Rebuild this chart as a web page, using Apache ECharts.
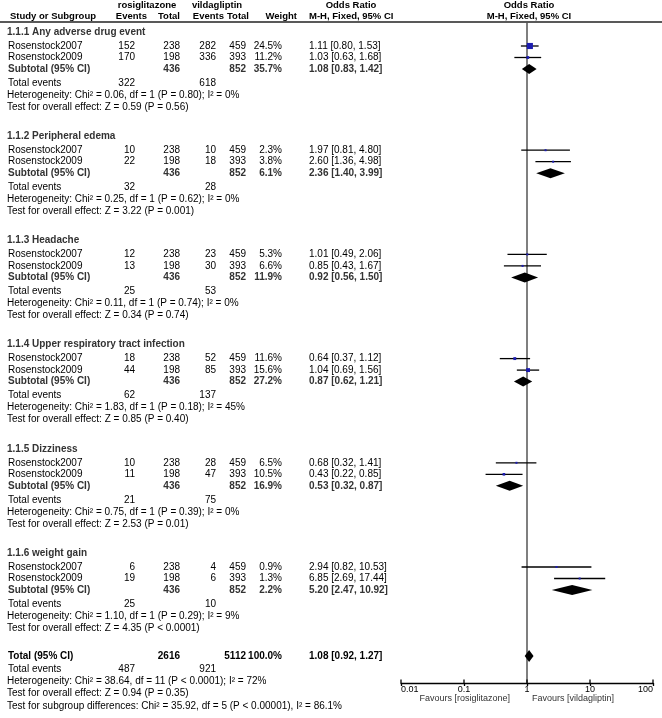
<!DOCTYPE html>
<html><head><meta charset="utf-8">
<script src="https://cdn.jsdelivr.net/npm/echarts@6/dist/echarts.min.js"></script>
<style>html,body{margin:0;padding:0;background:#fff}#c{width:662px;height:718px}</style>
</head><body><div id="c"></div>
<script>
// ---------------- DATA ----------------
const subgroups = ['1.1.1 Any adverse drug event','1.1.2 Peripheral edema','1.1.3 Headache','1.1.4 Upper respiratory tract infection','1.1.5 Dizziness','1.1.6 weight gain'];
const studies = ['Rosenstock2007','Rosenstock2009'];
const rosiEvents = [[152,170],[10,22],[12,13],[18,44],[10,11],[6,19]];
const rosiTotal = [238,198];
const vildaEvents = [[282,336],[10,18],[23,30],[52,85],[28,47],[4,6]];
const vildaTotal = [459,393];
const studyWeight = [[24.5,11.2],[2.3,3.8],[5.3,6.6],[11.6,15.6],[6.5,10.5],[0.9,1.3]];
const studyOR = [[1.11,1.03],[1.97,2.60],[1.01,0.85],[0.64,1.04],[0.68,0.43],[2.94,6.85]];
const studyLo = [[0.80,0.63],[0.81,1.36],[0.49,0.43],[0.37,0.69],[0.32,0.22],[0.82,2.69]];
const studyHi = [[1.53,1.68],[4.80,4.98],[2.06,1.67],[1.12,1.56],[1.41,0.85],[10.53,17.44]];
const subRosiTotal = [436,436,436,436,436,436];
const subVildaTotal = [852,852,852,852,852,852];
const subWeight = [35.7,6.1,11.9,27.2,16.9,2.2];
const subOR = [1.08,2.36,0.92,0.87,0.53,5.20];
const subLo = [0.83,1.40,0.56,0.62,0.32,2.47];
const subHi = [1.42,3.99,1.50,1.21,0.87,10.92];
const subRosiEvents = [322,32,25,62,21,25];
const subVildaEvents = [618,28,53,137,75,10];
const hetChi = ['0.06','0.25','0.11','1.83','0.75','1.10'];
const hetDf = [1,1,1,1,1,1];
const hetP = ['= 0.80','= 0.62','= 0.74','= 0.18','= 0.39','= 0.29'];
const hetI2 = ['0%','0%','0%','45%','0%','9%'];
const zVal = ['0.59','3.22','0.34','0.85','2.53','4.35'];
const zP = ['= 0.56','= 0.001','= 0.74','= 0.40','= 0.01','< 0.0001'];
const totRosiTotal = 2616, totVildaTotal = 5112, totWeight = 100.0;
const totOR = 1.08, totLo = 0.92, totHi = 1.27;
const totRosiEvents = 487, totVildaEvents = 921;
const totHet = 'Heterogeneity: Chi² = 38.64, df = 11 (P < 0.0001); I² = 72%';
const totZ = 'Test for overall effect: Z = 0.94 (P = 0.35)';
const subDiff = 'Test for subgroup differences: Chi² = 35.92, df = 5 (P < 0.00001), I² = 86.1%';
const tickValues = [0.01, 0.1, 1, 10, 100];
const tickLabels = ['0.01','0.1','1','10','100'];
const favLeft = 'Favours [rosiglitazone]';
const favRight = 'Favours [vildagliptin]';

// ---------------- LAYOUT ----------------
const FONT = '"Liberation Sans", Arial, sans-serif';
const FS = 10, FS_AX = 9, FS_HD = 9.5;
const groupTop = subgroups.map((_, g) => 32 + g * 104.2);
const OFF = {hdr:0, s:[14,25.5], sub:37, te:51, het:63, test:75};
const TOT = {row:656, te:669, het:681, test:693, diff:706};
const COL = {label:8, hx:7, rE:135, rT:180, vE:216, vT:246, w:282, or:309};
const AXIS_Y = 683, HEAD_LINE = 22;

const fmt2 = v => v.toFixed(2);
const orTxt = (o,l,h) => fmt2(o) + ' [' + fmt2(l) + ', ' + fmt2(h) + ']';
const graphics = [];
function T(text, x, y, opt) {
  opt = opt || {};
  graphics.push({type:'text', x:x, y:y, silent:true, style:{
    text:String(text), fill: opt.fill || '#000', align: opt.align || 'left', verticalAlign:'middle',
    font: (opt.bold ? 'bold ' : '') + (opt.fs || FS) + 'px ' + FONT }});
}
// headers
const H = {bold:true, fs:FS_HD};
T('rosiglitazone', 147, 5, Object.assign({align:'center'}, H));
T('vildagliptin', 217, 5, Object.assign({align:'center'}, H));
T('Odds Ratio', 351, 5, Object.assign({align:'center'}, H));
T('Odds Ratio', 529, 5, Object.assign({align:'center'}, H));
T('Study or Subgroup', 10, 16, H);
T('Events', 147, 16, Object.assign({align:'right'}, H));
T('Total', 180, 16, Object.assign({align:'right'}, H));
T('Events', 224, 16, Object.assign({align:'right'}, H));
T('Total', 249, 16, Object.assign({align:'right'}, H));
T('Weight', 297, 16, Object.assign({align:'right'}, H));
T('M-H, Fixed, 95% CI', 309, 16, H);
T('M-H, Fixed, 95% CI', 529, 16, Object.assign({align:'center'}, H));
graphics.push({type:'line', silent:true, shape:{x1:0, y1:HEAD_LINE, x2:662, y2:HEAD_LINE}, style:{stroke:'#222', lineWidth:1.5}});

const marks = [];
subgroups.forEach((name, g) => {
  const y0 = groupTop[g];
  T(name, COL.hx, y0 + OFF.hdr, {bold:true, fill:'#333'});
  studies.forEach((s, i) => {
    const y = y0 + OFF.s[i];
    T(s, COL.label, y);
    T(rosiEvents[g][i], COL.rE, y, {align:'right'});
    T(rosiTotal[i], COL.rT, y, {align:'right'});
    T(vildaEvents[g][i], COL.vE, y, {align:'right'});
    T(vildaTotal[i], COL.vT, y, {align:'right'});
    T(studyWeight[g][i].toFixed(1) + '%', COL.w, y, {align:'right'});
    T(orTxt(studyOR[g][i], studyLo[g][i], studyHi[g][i]), COL.or, y);
    marks.push([studyOR[g][i], studyLo[g][i], studyHi[g][i], y, studyWeight[g][i], 0]);
  });
  const ys = y0 + OFF.sub;
  T('Subtotal (95% CI)', COL.label, ys, {bold:true, fill:'#333'});
  T(subRosiTotal[g], COL.rT, ys, {bold:true, fill:'#333', align:'right'});
  T(subVildaTotal[g], COL.vT, ys, {bold:true, fill:'#333', align:'right'});
  T(subWeight[g].toFixed(1) + '%', COL.w, ys, {bold:true, fill:'#333', align:'right'});
  T(orTxt(subOR[g], subLo[g], subHi[g]), COL.or, ys, {bold:true, fill:'#333'});
  marks.push([subOR[g], subLo[g], subHi[g], ys, subWeight[g], 1]);
  T('Total events', COL.label, y0 + OFF.te);
  T(subRosiEvents[g], COL.rE, y0 + OFF.te, {align:'right'});
  T(subVildaEvents[g], COL.vE, y0 + OFF.te, {align:'right'});
  T('Heterogeneity: Chi² = ' + hetChi[g] + ', df = ' + hetDf[g] + ' (P ' + hetP[g] + '); I² = ' + hetI2[g], COL.hx, y0 + OFF.het);
  T('Test for overall effect: Z = ' + zVal[g] + ' (P ' + zP[g] + ')', COL.hx, y0 + OFF.test);
});
T('Total (95% CI)', COL.label, TOT.row, {bold:true});
T(totRosiTotal, COL.rT, TOT.row, {bold:true, align:'right'});
T(totVildaTotal, COL.vT, TOT.row, {bold:true, align:'right'});
T(totWeight.toFixed(1) + '%', COL.w, TOT.row, {bold:true, align:'right'});
T(orTxt(totOR, totLo, totHi), COL.or, TOT.row, {bold:true});
marks.push([totOR, totLo, totHi, TOT.row, totWeight, 2]);
T('Total events', COL.label, TOT.te);
T(totRosiEvents, COL.rE, TOT.te, {align:'right'});
T(totVildaEvents, COL.vE, TOT.te, {align:'right'});
T(totHet, COL.hx, TOT.het);
T(totZ, COL.hx, TOT.test);
T(subDiff, COL.hx, TOT.diff);
T(favLeft, 510, 699, {fill:'#333', align:'right', fs:FS_AX});
T(favRight, 532, 699, {fill:'#333', fs:FS_AX});

const chart = echarts.init(document.getElementById('c'), null, {renderer:'canvas'});
chart.setOption({
  animation:false,
  backgroundColor:'#fff',
  grid:{left:401, width:252, top:0, height:AXIS_Y},
  xAxis:{type:'log', logBase:10, min:0.01, max:100, position:'bottom',
    axisLine:{onZero:false, lineStyle:{color:'#000', width:1.3}},
    axisTick:{length:3, lineStyle:{color:'#000', width:1.3}},
    splitLine:{show:false}, minorTick:{show:false},
    axisLabel:{fontSize:FS_AX, fontFamily:FONT, color:'#000', margin:2, alignMinLabel:'left', alignMaxLabel:'right',
      formatter:v => { const i = tickValues.findIndex(t => Math.abs(Math.log10(t) - Math.log10(v)) < 1e-6); return i >= 0 ? tickLabels[i] : ''; }}},
  yAxis:{type:'value', min:0, max:AXIS_Y, inverse:true, show:false},
  graphic:graphics,
  series:[
    {type:'custom', clip:false, silent:true, data:[[1, HEAD_LINE, AXIS_Y]],
     renderItem:(p, api) => {
       const a = api.coord([api.value(0), api.value(1)]);
       const b = api.coord([api.value(0), api.value(2)]);
       return {type:'line', shape:{x1:a[0], y1:a[1], x2:b[0], y2:b[1]}, style:{stroke:'#555', lineWidth:1.5}};
     }},
    {type:'custom', clip:false, silent:true, data:tickValues.map(v => [v, AXIS_Y]),
     renderItem:(p, api) => {
       const a = api.coord([api.value(0), api.value(1)]);
       return {type:'line', shape:{x1:a[0], y1:a[1]-3.5, x2:a[0], y2:a[1]}, style:{stroke:'#000', lineWidth:1.3}};
     }},
    {type:'custom', clip:false, silent:true, data:marks,
     encode:{x:[0,1,2], y:3},
     renderItem:(p, api) => {
       const y = api.value(3), kind = api.value(5);
       const c = api.coord([api.value(0), y]);
       const l = api.coord([api.value(1), y]);
       const h = api.coord([api.value(2), y]);
       if (kind === 0) {
         const s = Math.max(2, api.value(4) * 0.25);
         return {type:'group', children:[
           {type:'line', shape:{x1:l[0], y1:c[1], x2:h[0], y2:c[1]}, style:{stroke:'#000', lineWidth:1.3}},
           {type:'rect', shape:{x:c[0]-s/2, y:c[1]-s/2, width:s, height:s}, style:{fill:'#1c1cb0'}}
         ]};
       }
       const hh = kind === 2 ? 6 : 5;
       return {type:'polygon', shape:{points:[[l[0], c[1]], [c[0], c[1]-hh], [h[0], c[1]], [c[0], c[1]+hh]]}, style:{fill:'#000'}};
     }}
  ]
});
</script></body></html>
